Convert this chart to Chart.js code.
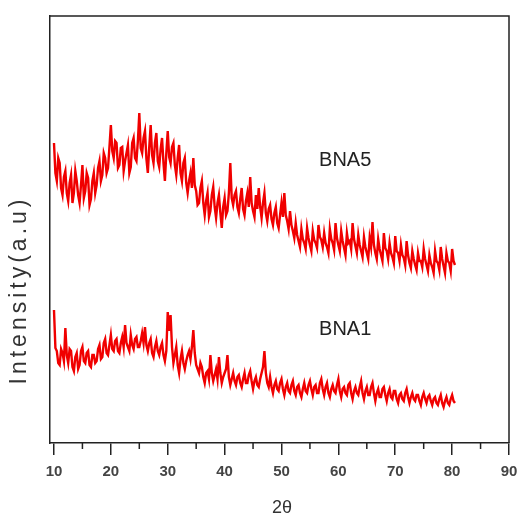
<!DOCTYPE html>
<html><head><meta charset="utf-8">
<script src="https://cdn.jsdelivr.net/npm/chart.js@4"></script>
<style>html,body{margin:0;padding:0;background:#fff}#wrap{width:518px;height:519px}</style>
</head><body><div id="wrap"><canvas id="c" width="518" height="519"></canvas></div>
<script>
// scan: 2θ from 10° in 0.25° steps
const scanStart = 10;
const scanStep = 0.25;
const bna5 = [
300,270,262,285, 280,255,248,266, 272,250,242,260, 268,240,250,272, 262,248,240,258,
278,245,252,270, 265,238,244,262, 270,250,258,275, 282,262,268,290, 285,270,275,296,
318,292,285,302, 300,275,278,295, 296,272,282,290, 298,270,276,300, 305,285,282,302,
330,295,290,305, 312,284,270,296, 318,288,280,300, 310,282,276,294, 305,280,262,290,
312,286,280,296, 300,278,268,285, 298,270,262,280, 285,260,250,262, 270,255,285,258,
252,238,240,255, 262,240,228,242, 250,226,232,248, 256,236,225,240, 248,230,215,236,
245,228,232,250, 280,245,238,248, 252,236,230,244, 255,234,228,242, 250,236,266,240,
232,226,248,234, 255,236,225,240, 250,230,222,234, 238,224,218,230, 236,220,215,228,
240,226,250,228, 222,214,232,218, 212,205,220,208, 202,196,214,204, 200,194,215,205,
198,192,212,203, 200,195,218,206, 203,196,210,200, 196,190,214,204, 200,193,220,205,
198,192,212,202, 195,188,210,200, 202,194,220,204, 197,190,208,198, 192,186,206,196,
190,184,205,196, 221,198,190,184, 204,194,188,182, 210,195,192,184, 200,190,186,180,
207,192,190,182, 198,188,185,178, 202,188,180,175, 192,184,178,173, 190,182,182,176,
194,184,178,172, 188,180,176,170, 192,182,180,173, 196,184,177,170, 190,182,180,172,
194,182,178];
const bna1 = [
133,95,92,80, 78,94,90,82, 115,88,80,94, 92,76,72,86, 90,74,78,92,
96,82,80,90, 92,78,76,88, 88,80,82,94, 98,84,86,100, 104,90,88,98,
108,94,92,102, 104,92,90,100, 106,96,118,100, 96,92,108,98, 94,104,106,96,
96,102,110,100, 116,98,92,100, 104,90,86,96, 102,92,88,96, 100,88,82,92,
131,112,128,96, 80,88,96,78, 70,84,92,80, 74,82,88,92, 84,96,113,90,
78,74,70,80, 76,66,60,70, 72,64,88,70, 62,68,74,64, 86,70,60,66,
70,74,88,66, 58,64,70,62, 58,66,68,60, 56,64,70,60, 60,68,72,62,
54,62,66,58, 56,64,70,76, 92,70,60,56, 66,56,50,58, 62,54,52,60,
64,54,48,56, 60,52,50,58, 62,52,48,56, 58,50,46,54, 60,52,50,58,
62,54,48,56, 58,50,50,60, 64,54,48,56, 60,50,46,54, 58,52,50,58,
64,52,46,54, 56,50,48,58, 60,50,44,52, 56,50,48,56, 62,50,44,52,
56,48,48,56, 60,50,42,50, 54,46,46,54, 56,48,42,50, 54,46,44,52,
52,44,40,48, 50,44,42,50, 54,46,40,46, 50,44,42,48, 48,42,38,46,
50,44,40,46, 48,42,38,44, 46,40,38,44, 48,40,36,42, 46,40,38,44,
48,42,40];
const xTickValues = [10,15,20,25,30,35,40,45,50,55,60,65,70,75,80,85,90];
const xMajorTicks = [10,20,30,40,50,60,70,80,90];
const seriesNames = ['BNA5','BNA1'];
const seriesLabelPos = [[61.2,283],[61.2,114]];

const toPts = ys => ys.map((y,i)=>({x:scanStart + scanStep*i, y:y}));

const extras = {
  id:'extras',
  afterDraw(chart){
    const {ctx, chartArea:a, scales:{x,y}} = chart;
    ctx.save();
    ctx.strokeStyle='#222'; ctx.lineWidth=1.5;
    ctx.beginPath();
    ctx.moveTo(a.left,a.top); ctx.lineTo(a.right,a.top); ctx.lineTo(a.right,a.bottom);
    ctx.stroke();
    xTickValues.forEach(v=>{
      if(xMajorTicks.includes(v)) return;
      const px=x.getPixelForValue(v);
      ctx.beginPath(); ctx.moveTo(px,a.bottom); ctx.lineTo(px,a.bottom+6); ctx.stroke();
    });
    ctx.fillStyle='#222';
    ctx.font='20px "Liberation Sans", Arial, sans-serif';
    ctx.textAlign='center'; ctx.textBaseline='middle';
    seriesNames.forEach((n,i)=>{
      ctx.fillText(n, x.getPixelForValue(seriesLabelPos[i][0]), y.getPixelForValue(seriesLabelPos[i][1]));
    });
    ctx.font='18px "Liberation Sans", Arial, sans-serif';
    ctx.fillStyle='#333';
    ctx.fillText('2θ', 282, 508);
    ctx.translate(20, 290);
    ctx.rotate(-Math.PI/2);
    ctx.font='23px "Liberation Sans", Arial, sans-serif';
    try { ctx.letterSpacing = '4px'; } catch(e) {}
    ctx.fillText('Intensity(a.u)', 0, 0);
    ctx.restore();
  }
};

new Chart(document.getElementById('c'), {
  type:'line',
  data:{datasets:[
    {label:seriesNames[0], data:toPts(bna5), borderColor:'#f00000', borderWidth:2.4, pointRadius:0, tension:0, fill:false},
    {label:seriesNames[1], data:toPts(bna1), borderColor:'#f00000', borderWidth:2.4, pointRadius:0, tension:0, fill:false}
  ]},
  options:{
    responsive:false, animation:false, devicePixelRatio:1,
    layout:{padding:{top:16,right:9,left:0,bottom:0}},
    plugins:{legend:{display:false}, tooltip:{enabled:false}},
    scales:{
      x:{type:'linear', min:9.3, max:90,
        afterBuildTicks:s=>{s.ticks = xTickValues.map(v=>({value:v}));},
        afterFit:s=>{s.height=76; s.paddingRight=0; s.paddingLeft=0;},
        ticks:{autoSkip:false, maxRotation:0, padding:8, color:'#444',
          font:{family:'"Liberation Sans", Arial, sans-serif', size:15, weight:'bold'},
          callback:v=> xMajorTicks.includes(v) ? String(v) : ''},
        grid:{drawOnChartArea:false, drawTicks:true, tickLength:12, lineWidth:1.5,
          color:c=> (c.tick && xMajorTicks.includes(c.tick.value)) ? '#222' : 'rgba(0,0,0,0)'},
        border:{display:true, color:'#222', width:1.5}
      },
      y:{min:0, max:427,
        afterFit:s=>{s.width=50;},
        ticks:{display:false},
        grid:{display:false, drawTicks:false},
        border:{display:true, color:'#222', width:1.5}
      }
    }
  },
  plugins:[extras]
});
</script></body></html>
